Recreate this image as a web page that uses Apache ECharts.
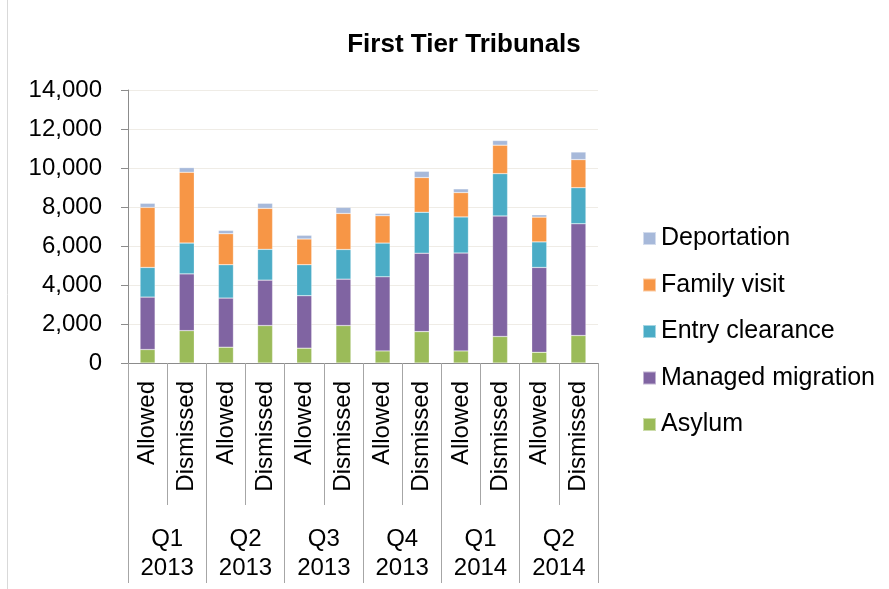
<!DOCTYPE html>
<html>
<head>
<meta charset="utf-8">
<script src="https://cdn.jsdelivr.net/npm/echarts@6/dist/echarts.min.js"></script>
<style>
html,body{margin:0;padding:0;background:#fff;}
#chart{width:889px;height:589px;}
</style>
</head>
<body>
<div id="chart"></div>
<script>
var categories = ['Allowed','Dismissed','Allowed','Dismissed','Allowed','Dismissed','Allowed','Dismissed','Allowed','Dismissed','Allowed','Dismissed'];
var groups = ['Q1\n2013','Q2\n2013','Q3\n2013','Q4\n2013','Q1\n2014','Q2\n2014'];
var yTicks = [0, 2000, 4000, 6000, 8000, 10000, 12000, 14000];

var asylum     = [690, 1660, 810, 1920, 760, 1920, 620, 1610, 620, 1360, 550, 1410];
var managed    = [2690, 2910, 2520, 2330, 2690, 2380, 3800, 4020, 5020, 6180, 4350, 5730];
var entry      = [1520, 1580, 1710, 1580, 1590, 1520, 1730, 2100, 1850, 2170, 1310, 1850];
var family     = [3080, 3630, 1590, 2100, 1320, 1850, 1400, 1780, 1250, 1460, 1270, 1440];
var deport     = [210, 240, 170, 260, 190, 310, 120, 320, 190, 240, 120, 390];

var seriesNames = ['Asylum','Managed migration','Entry clearance','Family visit','Deportation'];
var seriesData = [asylum, managed, entry, family, deport];
var colors = ['#9bbb59','#8064a2','#4bacc6','#f79646','#a7b9da'];

var font = 'Liberation Sans, Arial, sans-serif';
var chart = echarts.init(document.getElementById('chart'), null, {renderer:'canvas'});

var series = seriesNames.map(function(n, i){
  return {
    name: n, type: 'bar', stack: 'total', barWidth: 15,
    itemStyle: {color: colors[i], borderColor: 'rgba(255,255,255,0.5)', borderWidth: 0.5},
    data: seriesData[i]
  };
});

chart.setOption({
  animation: false,
  title: {
    text: 'First Tier Tribunals', left: 459, top: 27, textAlign: 'center',
    textStyle: {fontFamily: font, fontSize: 26, fontWeight: 'bold', color: '#000'}
  },
  legend: {
    orient: 'vertical', left: 637, top: 221, itemWidth: 13, itemHeight: 13, itemGap: 21.5,
    icon: 'rect',
    data: ['Deportation','Family visit','Entry clearance','Managed migration','Asylum'],
    textStyle: {fontFamily: font, fontSize: 25, color: '#000'}
  },
  grid: {left: 128, right: 291, top: 90, bottom: 226, containLabel: false},
  xAxis: [{
    type: 'category', data: categories, position: 'bottom',
    axisLine: {show: true, lineStyle: {color: '#8c8c8c', width: 1}},
    axisTick: {show: true, interval: 0, length: 142, lineStyle: {color: '#a6a6a6'}},
    axisLabel: {interval: 0, rotate: 90, margin: 18, fontFamily: font, fontSize: 24, color: '#000'}
  }, {
    type: 'category', data: groups, position: 'bottom', offset: 0,
    axisLine: {show: false},
    axisTick: {show: true, interval: 0, length: 220, lineStyle: {color: '#a6a6a6'}},
    axisLabel: {interval: 0, margin: 162, lineHeight: 29, fontFamily: font, fontSize: 24, color: '#000'}
  }],
  yAxis: {
    type: 'value', min: 0, max: 14000, interval: 2000,
    axisLine: {show: true, lineStyle: {color: '#8c8c8c'}},
    axisTick: {show: true, length: 7, lineStyle: {color: '#8c8c8c'}},
    splitLine: {show: true, lineStyle: {color: '#efece6'}},
    axisLabel: {
      margin: 26, fontFamily: font, fontSize: 24, color: '#000',
      formatter: function(v){ return yTicks.indexOf(v) >= 0 ? v.toLocaleString('en-US') : ''; }
    }
  },
  graphic: [{
    type: 'line', shape: {x1: 7.5, y1: 0, x2: 7.5, y2: 589},
    style: {stroke: '#d9d9d9', lineWidth: 1}
  }],
  series: series
});
</script>
</body>
</html>
